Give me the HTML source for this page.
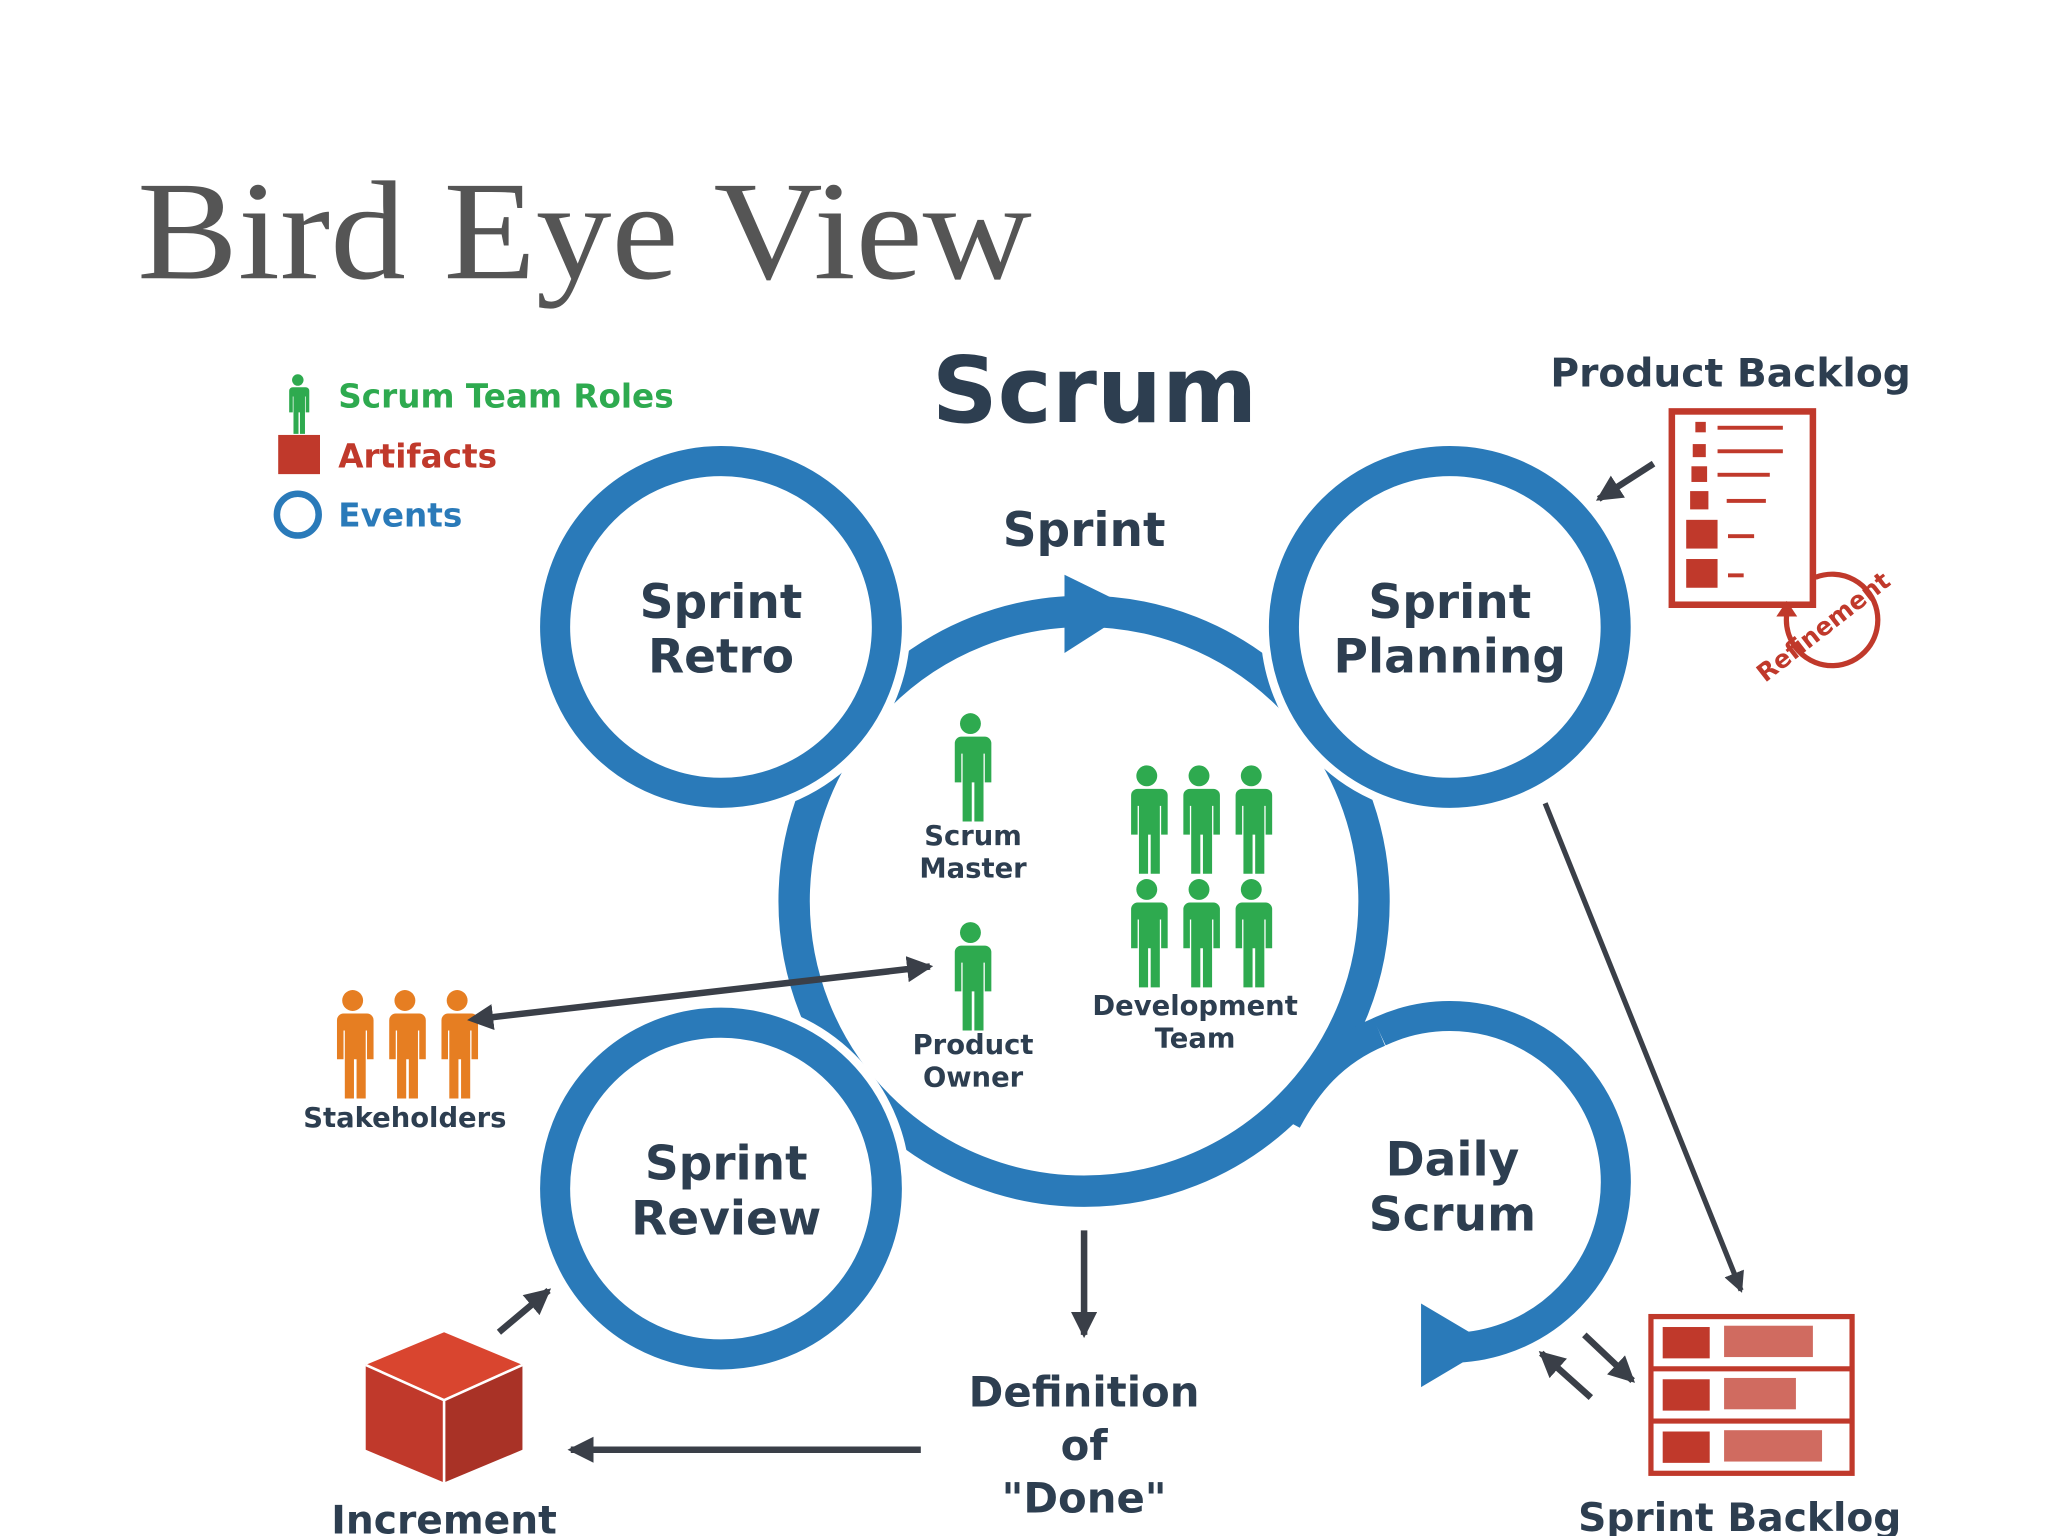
<!DOCTYPE html>
<html><head><meta charset="utf-8"><style>html,body{margin:0;padding:0;background:#fff;width:2048px;height:1536px;overflow:hidden}</style></head>
<body>
<svg width="2048" height="1536" viewBox="0 0 1568 1176" xmlns="http://www.w3.org/2000/svg">
<defs>
<g id="p"><circle cx="0" cy="-31" r="8"/><path d="M-11,-21 h22 a5,5 0 0 1 5,5 v30 h-5 v-22 h-1 v52 h-7 v-30 h-2 v30 h-7 v-52 h-1 v22 h-5 v-30 a5,5 0 0 1 5,-5 z"/></g>
<marker id="ah" markerWidth="4" markerHeight="4" refX="3.5" refY="2" orient="auto" markerUnits="strokeWidth"><path d="M0,0 L4,2 L0,4 z" fill="#3a3f48"/></marker>
<marker id="ahs" markerWidth="4" markerHeight="4" refX="0.5" refY="2" orient="auto-start-reverse" markerUnits="strokeWidth"><path d="M0,0 L4,2 L0,4 z" fill="#3a3f48"/></marker>
</defs>
<rect width="1568" height="1176" fill="#fff"/>
<text x="105" y="213" font-family="Liberation Serif, serif" font-size="108" fill="#555" textLength="685" lengthAdjust="spacingAndGlyphs">Bird Eye View</text>
<text x="838" y="323" text-anchor="middle" font-family="DejaVu Sans, sans-serif" font-weight="bold" font-size="70" fill="#2d3e50">Scrum</text>
<g font-family="DejaVu Sans, sans-serif" font-weight="bold" font-size="25">
<use href="#p" transform="translate(228 308) scale(0.55)" fill="#2eaa4f"/>
<text x="259" y="312" fill="#2eaa4f">Scrum Team Roles</text>
<rect x="213" y="333" width="32" height="30" fill="#c0392b"/>
<text x="259" y="358" fill="#c0392b">Artifacts</text>
<circle cx="228" cy="394" r="16" fill="none" stroke="#2a7ab9" stroke-width="5"/>
<text x="259" y="403" fill="#2a7ab9">Events</text>
</g>
<!-- central circle -->
<circle cx="830" cy="690" r="222" fill="none" stroke="#2a7ab9" stroke-width="24"/>
<!-- daily scrum link and arc -->
<path d="M1056,790 C1020,805 1000,830 985,858" fill="none" stroke="#2a7ab9" stroke-width="23"/>
<path d="M1056,790 A127,127 0 1 1 1095,1031" fill="none" stroke="#2a7ab9" stroke-width="23"/>
<path d="M1088,998 L1142,1030 L1088,1062 z" fill="#2a7ab9"/>
<!-- small circles with white halo -->
<g fill="#fff" stroke="#fff" stroke-width="36">
<circle cx="552" cy="480" r="127"/><circle cx="1110" cy="480" r="127"/><circle cx="552" cy="910" r="127"/>
</g>
<g fill="none" stroke="#2a7ab9" stroke-width="23">
<circle cx="552" cy="480" r="127"/><circle cx="1110" cy="480" r="127"/><circle cx="552" cy="910" r="127"/>
</g>
<!-- sprint arrow head -->
<path d="M815,440 L868,466 L815,500 z" fill="#2a7ab9"/>
<g font-family="DejaVu Sans, sans-serif" font-weight="bold" fill="#2d3e50" text-anchor="middle">
<text x="830" y="418" font-size="36">Sprint</text>
<text x="552" y="473" font-size="36">Sprint</text><text x="552" y="515" font-size="36">Retro</text>
<text x="1110" y="473" font-size="36">Sprint</text><text x="1110" y="515" font-size="36">Planning</text>
<text x="556" y="903" font-size="36">Sprint</text><text x="556" y="945" font-size="36">Review</text>
<text x="1112" y="900" font-size="36">Daily</text><text x="1112" y="942" font-size="36">Scrum</text>
<text x="830" y="1077" font-size="32">Definition</text><text x="830" y="1118" font-size="32">of</text><text x="830" y="1158" font-size="32">"Done"</text>
<text x="1325" y="296" font-size="30">Product Backlog</text>
<text x="1332" y="1172" font-size="30">Sprint Backlog</text>
<text x="340" y="1174" font-size="30">Increment</text>
<text x="745" y="647" font-size="21">Scrum</text><text x="745" y="672" font-size="21">Master</text>
<text x="745" y="807" font-size="21">Product</text><text x="745" y="832" font-size="21">Owner</text>
<text x="915" y="777" font-size="21">Development</text><text x="915" y="802" font-size="21">Team</text>
<text x="310" y="863" font-size="21">Stakeholders</text>
</g>
<!-- people -->
<g fill="#2eaa4f">
<use href="#p" transform="translate(743 585)"/>
<use href="#p" transform="translate(743 745)"/>
<use href="#p" transform="translate(878 625)"/><use href="#p" transform="translate(918 625)"/><use href="#p" transform="translate(958 625)"/>
<use href="#p" transform="translate(878 712)"/><use href="#p" transform="translate(918 712)"/><use href="#p" transform="translate(958 712)"/>
</g>
<g fill="#e67e22">
<use href="#p" transform="translate(270 797)"/><use href="#p" transform="translate(310 797)"/><use href="#p" transform="translate(350 797)"/>
</g>
<!-- arrows -->
<g stroke="#3a3f48" stroke-width="5" fill="none">
<line x1="375" y1="779" x2="712" y2="740" marker-end="url(#ah)" marker-start="url(#ahs)"/>
<line x1="1183" y1="615" x2="1333" y2="988" stroke-width="4" marker-end="url(#ah)"/>
<line x1="1266" y1="355" x2="1224" y2="382" marker-end="url(#ah)"/>
<line x1="830" y1="942" x2="830" y2="1022" marker-end="url(#ah)"/>
<line x1="705" y1="1110" x2="437" y2="1110" marker-end="url(#ah)"/>
<line x1="382" y1="1020" x2="420" y2="988" marker-end="url(#ah)"/>
<line x1="1218" y1="1070" x2="1180" y2="1036" marker-end="url(#ah)"/>
<line x1="1213" y1="1022" x2="1250" y2="1057" marker-end="url(#ah)"/>
</g>
<!-- product backlog doc -->
<g fill="#c0392b">
<rect x="1280" y="315" width="108" height="148" fill="none" stroke="#c0392b" stroke-width="5"/>
<rect x="1298" y="323" width="8" height="8"/><rect x="1296" y="340" width="10" height="10"/><rect x="1295" y="357" width="12" height="12"/><rect x="1294" y="376" width="14" height="14"/><rect x="1291" y="398" width="24" height="22"/><rect x="1291" y="428" width="24" height="22"/>
<rect x="1315" y="326" width="50" height="3"/><rect x="1315" y="344" width="50" height="3"/><rect x="1315" y="362" width="40" height="3"/><rect x="1322" y="382" width="30" height="3"/><rect x="1323" y="409" width="20" height="3"/><rect x="1323" y="439" width="12" height="3"/>
</g>
<path d="M1390,442 A35,35 0 1 1 1368,470" fill="none" stroke="#c0392b" stroke-width="4"/>
<path d="M1360,472 L1368,460 L1376,472 z" fill="#c0392b"/>
<text x="1400" y="485" font-family="DejaVu Sans, sans-serif" font-weight="bold" font-size="19" fill="#c0392b" text-anchor="middle" transform="rotate(-38 1400 485)">Refinement</text>
<!-- sprint backlog -->
<g fill="none" stroke="#c0392b" stroke-width="4">
<rect x="1264" y="1008" width="154" height="120"/><line x1="1264" y1="1048" x2="1418" y2="1048"/><line x1="1264" y1="1088" x2="1418" y2="1088"/>
</g>
<g fill="#c0392b">
<rect x="1273" y="1016" width="36" height="24"/><rect x="1273" y="1056" width="36" height="24"/><rect x="1273" y="1096" width="36" height="24"/>
<rect x="1320" y="1015" width="68" height="24" opacity="0.75"/><rect x="1320" y="1055" width="55" height="24" opacity="0.75"/><rect x="1320" y="1095" width="75" height="24" opacity="0.75"/>
</g>
<!-- cube -->
<path d="M280,1045 L340,1020 L400,1045 L340,1072 z" fill="#d9452f"/>
<path d="M280,1045 L340,1072 L340,1135 L280,1110 z" fill="#c0392b"/>
<path d="M400,1045 L340,1072 L340,1135 L400,1110 z" fill="#a93226"/>
<path d="M280,1045 L340,1072 L400,1045 M340,1072 L340,1135" stroke="#fff" stroke-width="2" fill="none"/>
</svg>
</body></html>
